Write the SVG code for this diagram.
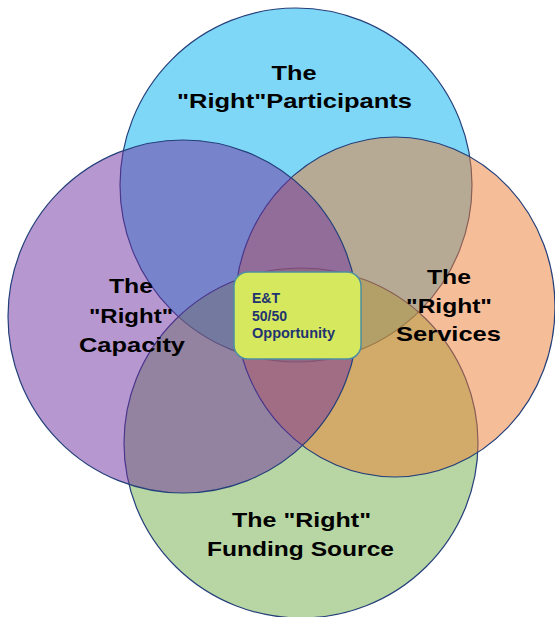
<svg xmlns="http://www.w3.org/2000/svg" width="555" height="617" viewBox="0 0 555 617">
<style>
.c{fill-opacity:0.5;stroke:#243F7A;stroke-width:1.2}
.t{font-family:"Liberation Sans",Arial,sans-serif;font-weight:bold;font-size:21px;fill:#000;text-anchor:middle}
.b{font-family:"Liberation Sans",Arial,sans-serif;font-weight:bold;font-size:14px;fill:#1F3470}
</style>
<rect width="555" height="617" fill="#fff"/>
<g id="participants"><ellipse class="c" cx="296" cy="185" rx="176" ry="177" fill="#00B0F0"/></g>
<g id="funding"><ellipse class="c" cx="301" cy="443" rx="177" ry="175" fill="#70AD47"/></g>
<g id="services"><ellipse class="c" cx="395" cy="307" rx="160" ry="170" fill="#ED7D31"/></g>
<g id="capacity"><ellipse class="c" cx="183" cy="316.5" rx="175" ry="176.5" fill="#7030A0"/></g>
<g id="labels">
<text class="t" x="294" y="80" textLength="45" lengthAdjust="spacingAndGlyphs">The</text>
<text class="t" x="294.5" y="108" textLength="235" lengthAdjust="spacingAndGlyphs">"Right"Participants</text>
<text class="t" x="131" y="293" textLength="44" lengthAdjust="spacingAndGlyphs">The</text>
<text class="t" x="131" y="323" textLength="84" lengthAdjust="spacingAndGlyphs">"Right"</text>
<text class="t" x="132" y="352" textLength="106" lengthAdjust="spacingAndGlyphs">Capacity</text>
<text class="t" x="449" y="284" textLength="44" lengthAdjust="spacingAndGlyphs">The</text>
<text class="t" x="449" y="313" textLength="86" lengthAdjust="spacingAndGlyphs">"Right"</text>
<text class="t" x="448.5" y="341" textLength="105" lengthAdjust="spacingAndGlyphs">Services</text>
<text class="t" x="301.5" y="527" textLength="139" lengthAdjust="spacingAndGlyphs">The "Right"</text>
<text class="t" x="300.5" y="556" textLength="187" lengthAdjust="spacingAndGlyphs">Funding Source</text>
</g>
<g id="opportunity">
<rect x="234" y="272" width="127" height="87" rx="14" fill="#D6E85E" stroke="#4F8FA0" stroke-width="1.5"/>
<text class="b" x="252" y="303">E&amp;T</text>
<text class="b" x="252" y="321">50/50</text>
<text class="b" x="252" y="338" textLength="83" lengthAdjust="spacingAndGlyphs">Opportunity</text>
</g>
</svg>
